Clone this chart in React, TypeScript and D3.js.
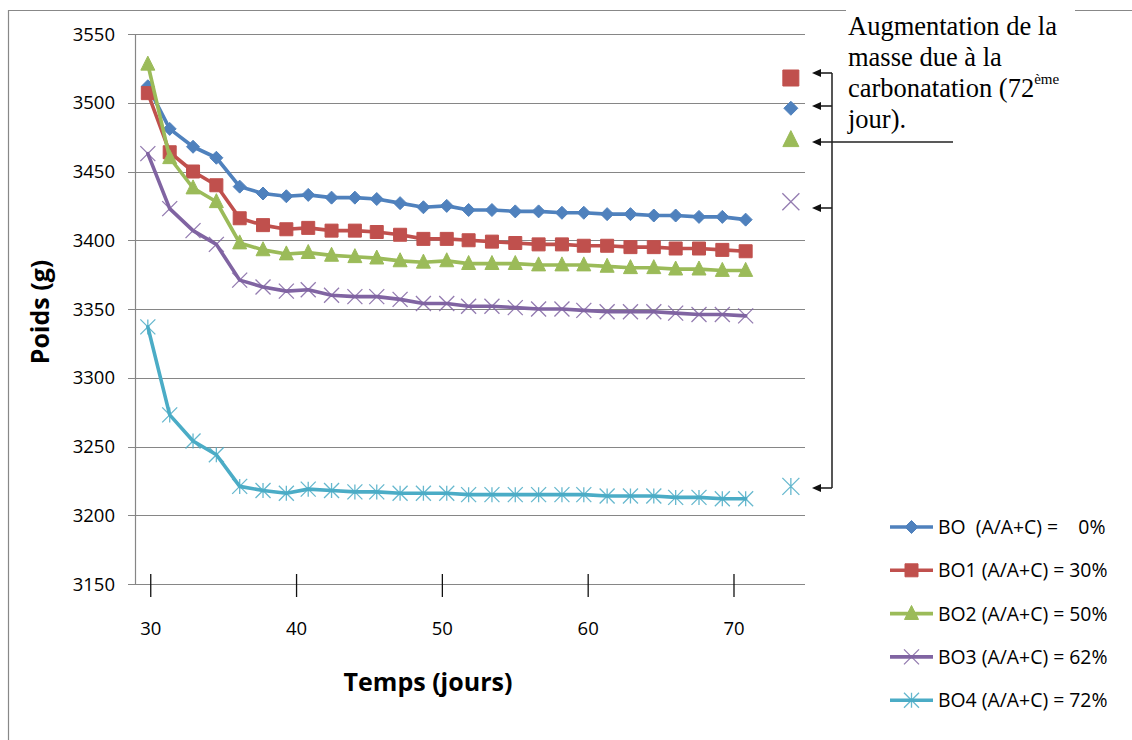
import React from "react";
import * as d3 from "d3";

// ---- data ----
const days = [29.8, 31.3, 32.9, 34.5, 36.1, 37.7, 39.3, 40.8, 42.4, 44.0, 45.5, 47.1, 48.7, 50.3, 51.8, 53.4, 55.0, 56.6, 58.2, 59.7, 61.3, 62.9, 64.5, 66.0, 67.6, 69.2, 70.8];
const bo0 = [3512, 3481, 3468, 3460, 3439, 3434, 3432, 3433, 3431, 3431, 3430, 3427, 3424, 3425, 3422, 3422, 3421, 3421, 3420, 3420, 3419, 3419, 3418, 3418, 3417, 3417, 3415];
const bo1 = [3507, 3464, 3450, 3440, 3416, 3411, 3408, 3409, 3407, 3407, 3406, 3404, 3401, 3401, 3400, 3399, 3398, 3397, 3397, 3396, 3396, 3395, 3395, 3394, 3394, 3393, 3392];
const bo2 = [3528, 3460, 3438, 3428, 3398, 3393, 3390, 3391, 3389, 3388, 3387, 3385, 3384, 3385, 3383, 3383, 3383, 3382, 3382, 3382, 3381, 3380, 3380, 3379, 3379, 3378, 3378];
const bo3 = [3463, 3423, 3407, 3397, 3371, 3366, 3363, 3364, 3360, 3359, 3359, 3357, 3354, 3354, 3352, 3352, 3351, 3350, 3350, 3349, 3348, 3348, 3348, 3347, 3346, 3346, 3345];
const bo4 = [3337, 3273, 3254, 3244, 3221, 3218, 3216, 3219, 3218, 3217, 3217, 3216, 3216, 3216, 3215, 3215, 3215, 3215, 3215, 3215, 3214, 3214, 3214, 3213, 3213, 3212, 3212];

// carbonation point (72nd day) plotted separately
const carbDay = 73.9;
const carbValues = [3496, 3518, 3473, 3428, 3221];
const arrowValues = [3497.5, 3521.5, 3471.5, 3423.5, 3220];

const seriesNames = [
  "BO  (A/A+C) =    0%",
  "BO1 (A/A+C) = 30%",
  "BO2 (A/A+C) = 50%",
  "BO3 (A/A+C) = 62%",
  "BO4 (A/A+C) = 72%",
];
const seriesValues = [bo0, bo1, bo2, bo3, bo4];
const seriesColors = ["#4F81BD", "#C0504D", "#9BBB59", "#8064A2", "#4BACC6"];
const seriesMarkers = ["diamond", "square", "triangle", "x", "star"];

const xTicks = [30, 40, 50, 60, 70];
const yTicks = [3150, 3200, 3250, 3300, 3350, 3400, 3450, 3500, 3550];

const annotationLines = ["Augmentation de la", "masse due à la", "carbonatation (72", "jour)."];

// ---- layout ----
const W = 1132;
const H = 740;
const plot = { left: 135, right: 805, top: 34, bottom: 584 };

function markerPath(type: string, cx: number, cy: number, s: number): string {
  const h = s / 2;
  switch (type) {
    case "diamond":
      return `M${cx},${cy - h}L${cx + h},${cy}L${cx},${cy + h}L${cx - h},${cy}Z`;
    case "square":
      return `M${cx - h},${cy - h}h${s}v${s}h${-s}Z`;
    case "triangle":
      return `M${cx},${cy - s * 0.58}L${cx + h},${cy + s * 0.42}L${cx - h},${cy + s * 0.42}Z`;
    case "x":
      return `M${cx - h},${cy - h}L${cx + h},${cy + h}M${cx - h},${cy + h}L${cx + h},${cy - h}`;
    default:
      return `M${cx - h},${cy - h}L${cx + h},${cy + h}M${cx - h},${cy + h}L${cx + h},${cy - h}M${cx},${cy - h}L${cx},${cy + h}`;
  }
}

function Marker({ type, cx, cy, color, size }: { type: string; cx: number; cy: number; color: string; size: number }) {
  const filled = type === "diamond" || type === "square" || type === "triangle";
  return filled ? (
    <path d={markerPath(type, cx, cy, size)} fill={color} stroke={color} strokeWidth={1} />
  ) : (
    <path d={markerPath(type, cx, cy, size)} fill="none" stroke={color} strokeWidth={1.3} opacity={0.85} />
  );
}

export default function App() {
  const x = d3.scaleLinear().domain([28.92, 74.87]).range([plot.left, plot.right]);
  const y = d3.scaleLinear().domain([3150, 3550]).range([plot.bottom, plot.top]);
  const line = d3
    .line<number>()
    .x((_, i) => x(days[i]))
    .y((v) => y(v));

  const font = "'Open Sans', 'Noto Sans', sans-serif";
  const markerSizes = [13, 13, 14, 15, 15];
  const carbSizes = [14, 16, 16, 17, 17];
  const vX = 832;
  const tipX = 812;

  return (
    <svg
      width={W}
      height={H}
      style={{ position: "absolute", left: 0, top: 0, background: "#fff" }}
      fontFamily={font}
    >
      <rect x={0} y={0} width={W} height={H} fill="#fff" />
      {/* chart border */}
      <path d={`M8.5,${H}V10.5H${W}`} fill="none" stroke="#888" strokeWidth={1.2} />

      {/* gridlines */}
      {yTicks.map((t) => (
        <line key={t} x1={plot.left - 7} x2={plot.right} y1={Math.round(y(t)) + 0.5} y2={Math.round(y(t)) + 0.5} stroke="#868686" strokeWidth={1.2} />
      ))}
      <line x1={plot.left + 0.5} x2={plot.left + 0.5} y1={plot.top} y2={plot.bottom} stroke="#868686" strokeWidth={1.2} />

      {/* y tick labels */}
      {yTicks.map((t) => (
        <text key={t} x={115} y={y(t)} dy="0.36em" textAnchor="end" fontSize={18.5} fill="#000">
          {t}
        </text>
      ))}
      {/* x ticks */}
      {xTicks.map((t) => (
        <g key={t}>
          <line x1={x(t)} x2={x(t)} y1={plot.bottom - 10} y2={plot.bottom + 13} stroke="#111" strokeWidth={1.3} />
          <text x={x(t)} y={628} dy="0.36em" textAnchor="middle" fontSize={18.5} fill="#000">
            {t}
          </text>
        </g>
      ))}

      {/* axis titles */}
      <text x={428} y={682} dy="0.36em" textAnchor="middle" fontSize={25} fontWeight="bold" fill="#000">
        Temps (jours)
      </text>
      <text transform={`translate(40,312) rotate(-90)`} textAnchor="middle" dy="0.36em" fontSize={25} fontWeight="bold" fill="#000">
        Poids (g)
      </text>

      {/* series */}
      {seriesValues.map((vals, si) => (
        <g key={si}>
          <path d={line(vals) || ""} fill="none" stroke={seriesColors[si]} strokeWidth={3.6} strokeLinejoin="round" strokeLinecap="round" />
          {vals.map((v, i) => (
            <Marker key={i} type={seriesMarkers[si]} cx={x(days[i])} cy={y(v)} color={seriesColors[si]} size={markerSizes[si]} />
          ))}
        </g>
      ))}

      {/* carbonation points */}
      {carbValues.map((v, si) => (
        <Marker key={si} type={seriesMarkers[si]} cx={x(carbDay)} cy={y(v)} color={seriesColors[si]} size={carbSizes[si]} />
      ))}

      {/* annotation text box */}
      <rect x={846} y={0} width={229} height={136} fill="#fff" />
      <g fontFamily="'Liberation Serif', 'Times New Roman', serif" fontSize={26.5} fill="#000">
        {annotationLines.map((l, i) => (
          <text key={i} x={848} y={35 + i * 31}>
            {l}
            {i === 2 ? (
              <tspan fontSize={15} dy={-13}>
                ème
              </tspan>
            ) : null}
          </text>
        ))}
      </g>

      {/* arrows */}
      <line x1={vX} x2={vX} y1={Math.round(y(arrowValues[1]))} y2={Math.round(y(arrowValues[4]))} stroke="#444" strokeWidth={1.8} />
      {arrowValues.map((v, i) => {
        const yy = Math.round(y(v));
        const endX = i === 2 ? 953 : vX;
        return (
          <g key={i}>
            <line x1={endX} x2={tipX + 6} y1={yy} y2={yy} stroke="#222" strokeWidth={1.6} />
            <path d={`M${tipX},${yy}L${tipX + 9},${yy - 4}L${tipX + 9},${yy + 4}Z`} fill="#111" />
          </g>
        );
      })}

      {/* legend */}
      {seriesNames.map((name, i) => {
        const ly = 527 + i * 43.3;
        return (
          <g key={i}>
            <line x1={890} x2={933} y1={ly} y2={ly} stroke={seriesColors[i]} strokeWidth={3.6} />
            <Marker type={seriesMarkers[i]} cx={911.5} cy={ly} color={seriesColors[i]} size={markerSizes[i]} />
            <text x={938} y={ly} dy="0.36em" fontSize={19.4} fill="#000" style={{ whiteSpace: "pre" }}>
              {name}
            </text>
          </g>
        );
      })}
    </svg>
  );
}
